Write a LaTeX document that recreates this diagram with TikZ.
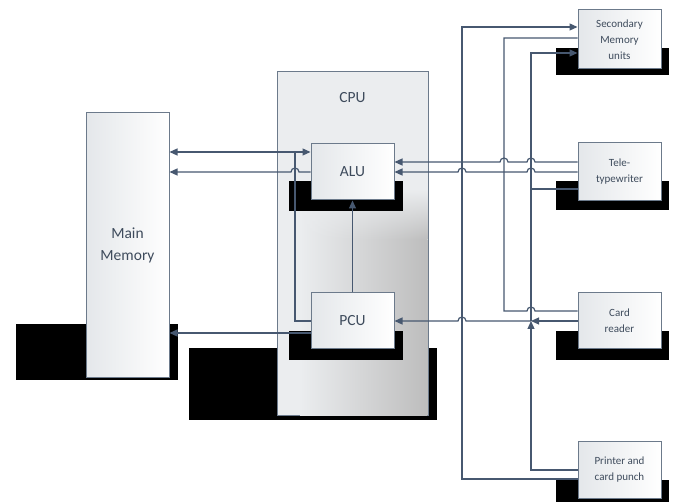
\documentclass[tikz,border=0pt]{standalone}
\usepackage{fontspec}
\setmainfont{Carlito}
\usetikzlibrary{arrows.meta,fadings}
\definecolor{lnC}{HTML}{475870}
\definecolor{txC}{HTML}{3E4B5C}
\definecolor{bdC}{HTML}{6C7A8B}
\definecolor{cpuC}{HTML}{EBEDEF}
\definecolor{boxL}{HTML}{E4E7EA}
\definecolor{cpuM}{HTML}{CBCBCB}
\definecolor{cpuD}{HTML}{BDBDBD}

\begin{document}
\begin{tikzpicture}[x=1pt,y=-1pt,>={Triangle[length=8pt,width=7pt]},
   font=\fontsize{11}{16}\selectfont,
   bx/.style={draw=bdC,line width=1pt,left color=boxL,right color=white,text=txC,
     align=center,inner sep=0pt,minimum width=83pt,minimum height=56pt},
   big/.style={font=\fontsize{15.5}{22}\selectfont},
   ln/.style={draw=lnC,line width=1.2pt}]
  \useasboundingbox (0,0) rectangle (675,502);
  % shadows
  \fill (16,324) rectangle (178,380);
  \fill (189,348) rectangle (437,420);
  \fill (556,48) rectangle (669,75);
  \fill (556,181) rectangle (669,210);
  \fill (556,331) rectangle (669,360);
  \fill (556,480) rectangle (669,502);
  % cpu
  \node[draw=bdC,line width=1pt,fill=cpuC,inner sep=0pt,minimum width=151pt,minimum height=344pt] (cpu) at (352.5,244) {};
  \shade[left color=cpuC,middle color=cpuM,right color=cpuD] (300,240) rectangle (427.4,415.4);
  \shade[left color=cpuC,middle color=cpuM,right color=cpuD,path fading=north] (300,190) rectangle (427.4,240);
  \node[big,text=txC] (cpulbl) at (352.5,98) {CPU};
  \fill (289,181) rectangle (403,211);
  \fill (289,331) rectangle (403,360);
  \node[bx,big] (alu) at (352.5,172) {ALU};
  \node[bx,big] (pcu) at (352.5,321) {PCU};
  \node[bx,big,minimum height=265pt] (mm) at (127.5,245.5) {Main\\Memory};
  % devices
  \node[bx,minimum height=59pt] (sec) at (619.5,39.5) {Secondary\\Memory\\units};
  \node[bx,minimum height=58pt] (tty) at (619.5,172) {Tele-\\typewriter};
  \node[bx] (crd) at (619.5,321) {Card\\reader};
  \node[bx] (prn) at (619.5,470) {Printer and\\card punch};
  \coordinate (ja) at (295,152);
  \coordinate (jt) at (531,189);
  \coordinate (jc) at (531,321);
  % memory side
  \draw[ln,<->] (mm.east |- ja) -- (alu.west |- ja);
  \draw[ln,->] (alu.west) -- (299,172) arc[start angle=0,end angle=-180,radius=4] -- (mm.east |- alu.west);
  \draw[ln] (pcu.west) -- (ja |- pcu.west) -- (ja);
  \draw[ln,->] (pcu.west |- 0,333) -- (mm.east |- 0,333);
  \draw[ln,->] (pcu.north) -- (alu.south);
  % teletypewriter
  \draw[ln,->] (tty.west |- 0,162) -- (535,162) arc[start angle=0,end angle=-180,radius=4]
    -- (508,162) arc[start angle=0,end angle=-180,radius=4] -- (alu.east |- 0,162);
  \draw[ln,->] (tty.west) -- (535,172) arc[start angle=0,end angle=-180,radius=4]
    -- (466,172) arc[start angle=0,end angle=-180,radius=4] -- (alu.east);
  \draw[ln] (tty.west |- jt) -- (jt);
  % card reader
  \draw[ln,->] (crd.west) -- (jc);
  \draw[ln,->] (jc) -- (466,321) arc[start angle=0,end angle=-180,radius=4] -- (pcu.east);
  \draw[ln] (crd.west |- 0,311) -- (535,311) arc[start angle=0,end angle=-180,radius=4]
    -- (504,311) -- (504,38) -- (sec.west |- 0,38);
  % printer
  \draw[ln,->] (prn.west) -- (jc |- prn.west) -- (jc);
  \draw[ln,->] (jc) -- (531,53) -- (sec.west |- 0,53);
  \draw[ln,->] (prn.west |- 0,479) -- (462,479) -- (462,27) -- (sec.west |- 0,27);
\end{tikzpicture}
\end{document}
